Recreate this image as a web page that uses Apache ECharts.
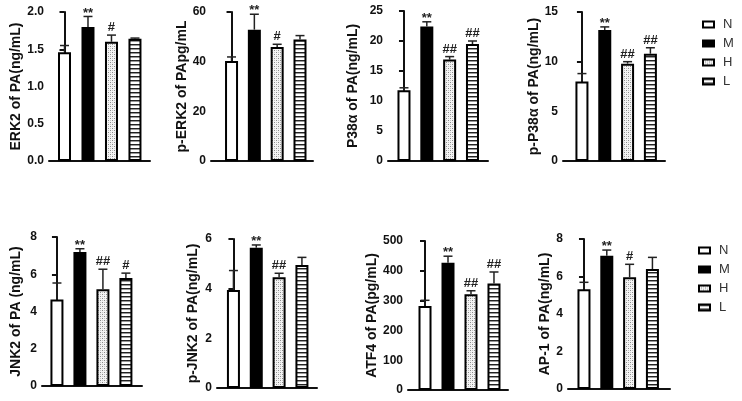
<!DOCTYPE html>
<html>
<head>
<meta charset="utf-8">
<script src="https://cdn.jsdelivr.net/npm/echarts@6/dist/echarts.min.js"></script>
<style>
  html, body { margin: 0; padding: 0; background: #fff; }
  #chart { width: 742px; height: 401px; }
</style>
</head>
<body>
<div id="chart"></div>
<script>
const categories = ['N', 'M', 'H', 'L'];

const erk2Mean = [1.46, 1.80, 1.60, 1.64];
const erk2Err = [0.09, 0.14, 0.09, 0.01];
const erk2Marks = ['', '**', '#', ''];

const pErk2Mean = [40.3, 52.9, 45.9, 48.9];
const pErk2Err = [1.6, 6.2, 1.1, 1.6];
const pErk2Marks = ['', '**', '#', ''];

const p38Mean = [11.8, 22.4, 16.9, 19.5];
const p38Err = [0.4, 0.8, 0.5, 0.5];
const p38Marks = ['', '**', '##', '##'];

const pP38Mean = [8.0, 13.2, 9.8, 10.8];
const pP38Err = [0.8, 0.3, 0.2, 0.6];
const pP38Marks = ['', '**', '##', '##'];

const jnk2Mean = [4.65, 7.2, 5.2, 5.8];
const jnk2Err = [0.88, 0.17, 1.07, 0.26];
const jnk2Marks = ['', '**', '##', '#'];

const pJnk2Mean = [3.95, 5.65, 4.46, 4.95];
const pJnk2Err = [0.78, 0.11, 0.16, 0.31];
const pJnk2Marks = ['', '**', '##', ''];

const atf4Mean = [282, 427, 321, 357];
const atf4Err = [19, 22, 12, 39];
const atf4Marks = ['', '**', '##', '##'];

const ap1Mean = [5.32, 7.11, 5.96, 6.4];
const ap1Err = [0.37, 0.3, 0.69, 0.62];
const ap1Marks = ['', '**', '#', ''];

const FONT = '"Liberation Sans", Arial, sans-serif';

// fill patterns for H (stipple) and L (stripes)
function dotPattern() {
  const c = document.createElement('canvas');
  c.width = 4; c.height = 4;
  const ctx = c.getContext('2d');
  ctx.fillStyle = '#f4f4f4';
  ctx.fillRect(0, 0, 4, 4);
  ctx.fillStyle = '#8a8a8a';
  ctx.fillRect(0, 0, 1, 1);
  ctx.fillRect(2, 2, 1, 1);
  ctx.fillStyle = '#c4c4c4';
  ctx.fillRect(2, 0, 1, 1);
  ctx.fillRect(0, 2, 1, 1);
  return c;
}
function stripePattern() {
  const c = document.createElement('canvas');
  c.width = 4; c.height = 4;
  const ctx = c.getContext('2d');
  ctx.fillStyle = '#ffffff';
  ctx.fillRect(0, 0, 4, 4);
  ctx.fillStyle = '#222';
  ctx.fillRect(0, 0, 4, 1);
  ctx.fillStyle = '#999';
  ctx.fillRect(0, 1, 4, 1);
  return c;
}

const fills = [
  '#ffffff',
  '#000000',
  { image: dotPattern(), repeat: 'repeat' },
  { image: stripePattern(), repeat: 'repeat' }
];

const panels = [
  { title: 'ERK2 of PA(ng/mL)', mean: erk2Mean, err: erk2Err, marks: erk2Marks, max: 2, interval: 0.5, digits: 1,
    grid: { left: 49, top: 12, width: 101, height: 149 }, xMin: -0.66, xMax: 3.64, nameGap: 26 },
  { title: 'p-ERK2 of PApg/mL', mean: pErk2Mean, err: pErk2Err, marks: pErk2Marks, max: 60, interval: 20, digits: 0,
    grid: { left: 211, top: 12, width: 102, height: 149 }, xMin: -0.9, xMax: 3.57, nameGap: 17 },
  { title: 'P38α of PA(ng/mL)', mean: p38Mean, err: p38Err, marks: p38Marks, max: 25, interval: 5, digits: 0,
    grid: { left: 388, top: 11, width: 100, height: 150 }, xMin: -0.7, xMax: 3.68, nameGap: 28 },
  { title: 'p-P38α of PA(ng/mL)', mean: pP38Mean, err: pP38Err, marks: pP38Marks, max: 15, interval: 5, digits: 0,
    grid: { left: 563, top: 12, width: 102, height: 149 }, xMin: -0.83, xMax: 3.64, nameGap: 20 },
  { title: 'JNK2 of PA (ng/mL)', mean: jnk2Mean, err: jnk2Err, marks: jnk2Marks, max: 8, interval: 2, digits: 0,
    grid: { left: 42, top: 237, width: 100, height: 149 }, xMin: -0.65, xMax: 3.7, nameGap: 19 },
  { title: 'p-JNK2 of PA(ng/mL)', mean: pJnk2Mean, err: pJnk2Err, marks: pJnk2Marks, max: 6, interval: 2, digits: 0,
    grid: { left: 217, top: 239, width: 100, height: 149 }, xMin: -0.72, xMax: 3.66, nameGap: 17 },
  { title: 'ATF4 of PA(pg/mL)', mean: atf4Mean, err: atf4Err, marks: atf4Marks, max: 500, interval: 100, digits: 0,
    grid: { left: 408, top: 241, width: 100, height: 149 }, xMin: -0.74, xMax: 3.61, nameGap: 23 },
  { title: 'AP-1 of PA(ng/mL)', mean: ap1Mean, err: ap1Err, marks: ap1Marks, max: 8, interval: 2, digits: 0,
    grid: { left: 568, top: 239, width: 102, height: 150 }, xMin: -0.7, xMax: 3.77, nameGap: 13 }
];

const grids = [];
const xAxes = [];
const yAxes = [];
const series = [];

panels.forEach((p, pi) => {
  grids.push({ left: p.grid.left, top: p.grid.top, width: p.grid.width, height: p.grid.height });
  xAxes.push({
    type: 'value',
    gridIndex: pi,
    min: p.xMin,
    max: p.xMax,
    axisLine: { show: true, onZero: false, lineStyle: { color: '#111', width: 2 } },
    axisTick: { show: false },
    axisLabel: { show: false },
    splitLine: { show: false }
  });
  yAxes.push({
    type: 'value',
    gridIndex: pi,
    min: 0,
    max: p.max,
    interval: p.interval,
    name: p.title,
    nameLocation: 'middle',
    nameGap: p.nameGap,
    nameTextStyle: { fontFamily: FONT, fontWeight: 'bold', fontSize: 14, color: '#111' },
    axisLine: { show: true, lineStyle: { color: '#111', width: 2 } },
    axisTick: { show: true, length: 5, lineStyle: { color: '#111', width: 2 } },
    axisLabel: {
      margin: 5,
      fontFamily: FONT,
      fontWeight: 'bold',
      fontSize: 12,
      color: '#111',
      formatter: (v) => v.toFixed(p.digits)
    },
    splitLine: { show: false }
  });

  categories.forEach((name, ci) => {
    series.push({
      name: name,
      type: 'bar',
      xAxisIndex: pi,
      yAxisIndex: pi,
      barWidth: 13,
      barGap: '-100%',
      itemStyle: { color: fills[ci], borderColor: '#000', borderWidth: 2 },
      emphasis: { disabled: true },
      data: [[ci, p.mean[ci]]]
    });
  });

  // error bars + significance marks
  series.push({
    type: 'custom',
    xAxisIndex: pi,
    yAxisIndex: pi,
    clip: false,
    silent: true,
    z: 5,
    data: p.mean.map((m, ci) => [ci, m, p.err[ci]]),
    renderItem: (params, api) => {
      const x = api.value(0);
      const m = api.value(1);
      const e = api.value(2);
      const mark = p.marks[params.dataIndex];
      const base = api.coord([x, m]);
      const top = api.coord([x, m + e]);
      const cap = 4.5;
      const children = [
        { type: 'line', shape: { x1: base[0], y1: base[1], x2: top[0], y2: top[1] },
          style: { stroke: '#222', lineWidth: 1.5 } },
        { type: 'line', shape: { x1: top[0] - cap, y1: top[1], x2: top[0] + cap, y2: top[1] },
          style: { stroke: '#222', lineWidth: 1.5 } }
      ];
      if (mark) {
        children.push({
          type: 'text',
          style: {
            text: mark, x: top[0], y: top[1] + (mark === '**' ? 3 : -1),
            align: 'center', verticalAlign: 'bottom',
            font: 'bold 13px ' + FONT, fill: '#222'
          }
        });
      }
      return { type: 'group', children: children };
    }
  });
});

const legendStyle = {
  orient: 'vertical',
  icon: 'rect',
  itemWidth: 11,
  itemHeight: 6,
  itemGap: 6,
  padding: 0,
  selectedMode: false,
  itemStyle: { borderColor: '#000', borderWidth: 2 },
  textStyle: { fontFamily: FONT, fontSize: 13, color: '#333', padding: [0, 0, 0, 4] },
  data: categories
};

const option = {
  animation: false,
  backgroundColor: '#fff',
  grid: grids,
  xAxis: xAxes,
  yAxis: yAxes,
  legend: [
    Object.assign({ left: 702, top: 18 }, legendStyle),
    Object.assign({ left: 698, top: 244 }, legendStyle)
  ],
  series: series
};

const chart = echarts.init(document.getElementById('chart'), null, { renderer: 'canvas' });
chart.setOption(option);
</script>
</body>
</html>
